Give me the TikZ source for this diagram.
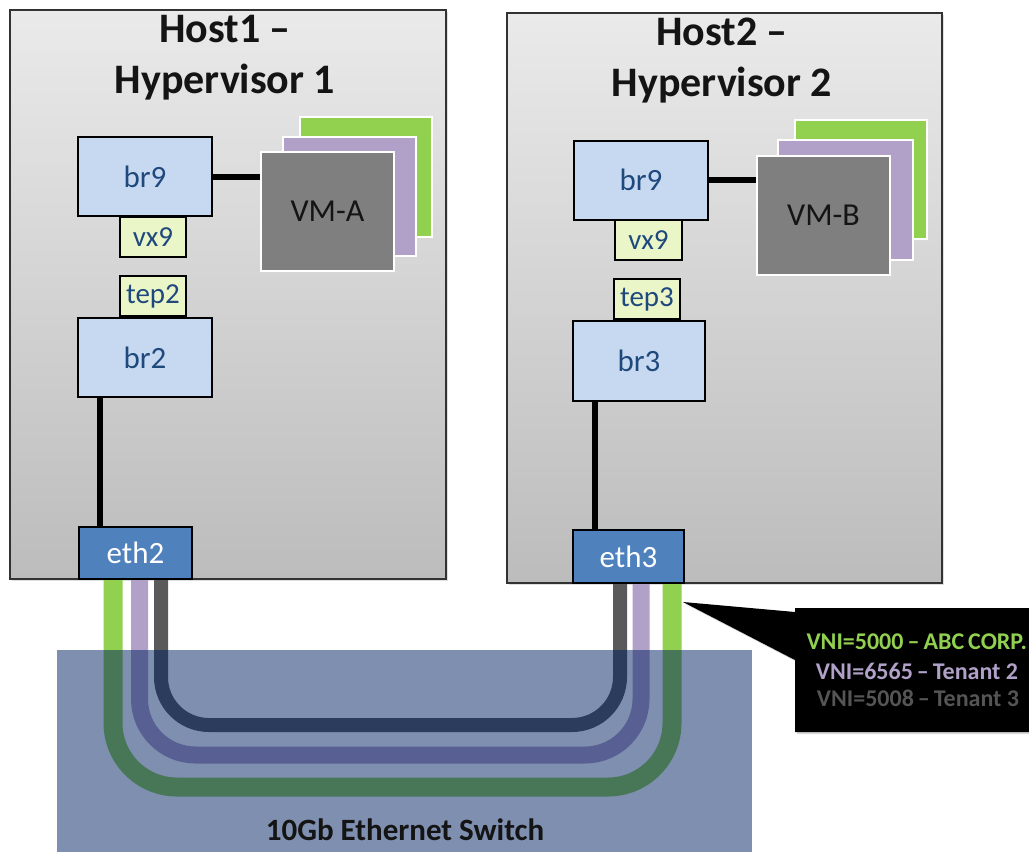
\documentclass[tikz,border=0pt]{standalone}
\usepackage{fontspec}
\setmainfont{Carlito}
\usetikzlibrary{shadows}
\definecolor{hostTop}{RGB}{234,234,234}
\definecolor{hostBot}{RGB}{188,188,188}
\definecolor{hostLine}{RGB}{50,50,50}
\definecolor{brFill}{RGB}{198,217,240}
\definecolor{tepFill}{RGB}{234,246,200}
\definecolor{ethFill}{RGB}{79,129,189}
\definecolor{boxText}{RGB}{31,73,125}
\definecolor{vmGray}{RGB}{127,127,127}
\definecolor{vmPurple}{RGB}{177,160,199}
\definecolor{vmGreen}{RGB}{146,208,80}
\definecolor{cabGray}{RGB}{90,90,90}
\definecolor{swFill}{RGB}{0,32,96}
\definecolor{txtDark}{RGB}{20,20,20}
\definecolor{vniGray}{RGB}{85,85,85}
\begin{document}
\begin{tikzpicture}[x=1pt,y=-1pt,
  host/.style={draw=hostLine, line width=2pt, top color=hostTop, bottom color=hostBot,
    inner sep=0pt, drop shadow={opacity=0.25, shadow xshift=2pt, shadow yshift=-2pt}},
  title/.style={font=\fontsize{42}{51}\selectfont\bfseries, text=txtDark, align=center},
  brbox/.style={draw=black, line width=2pt, fill=brFill, inner sep=0pt,
    minimum width=134pt, minimum height=79pt, text=boxText,
    font=\fontsize{31}{34}\selectfont},
  tepbox/.style={draw=black, line width=2pt, fill=tepFill, inner sep=0pt,
    minimum width=66pt, minimum height=40pt, text=boxText,
    font=\fontsize{29}{32}\selectfont},
  ethbox/.style={draw=black, line width=2pt, fill=ethFill, inner sep=0pt,
    text=white, font=\fontsize{31}{34}\selectfont},
  vm/.style={draw=white, line width=2pt, inner sep=0pt,
    minimum width=133pt, minimum height=119pt},
  vmfront/.style={vm, fill=vmGray, text=txtDark, font=\fontsize{32}{34}\selectfont},
  link/.style={line width=6pt, black},
  cable/.style={line width=#1},
  vni/.style={font=\fontsize{24}{26}\selectfont\bfseries}
]
\useasboundingbox (0,0) rectangle (1029,852);
\fill[white] (0,0) rectangle (1029,852);

% hosts
\node[host, minimum width=436pt, minimum height=569pt] (h1) at (228,294.5) {};
\node[host, minimum width=435pt, minimum height=570pt] (h2) at (724.5,298) {};
\node[title] (t1) at (225,58) {Host1 –\\Hypervisor 1};
\node[title] (t2) at (722,61) {Host2 –\\Hypervisor 2};

% host 1 contents
\node[vm, fill=vmGreen, minimum width=132pt, minimum height=120pt] (ga) at (366,177) {};
\node[vm, fill=vmPurple] (pa) at (349.5,196.5) {};
\node[vmfront] (vmA) at (327.5,211.5) {VM-A};
\node[brbox] (b9a) at (145,176.5) {br9};
\node[tepbox] (vxa) at (153,237) {vx9};
\node[tepbox] (tep2) at (153,296) {tep2};
\node[brbox] (br2) at (145,357.5) {br2};
\node[ethbox, minimum width=113pt, minimum height=52pt] (eth2) at (135.5,553) {eth2};
\draw[link] (b9a.east) -- (b9a.east -| vmA.west);
\draw[link] ([xshift=-45pt]br2.south) -- ([xshift=-45pt]br2.south |- eth2.north);

% host 2 contents
\node[vm, fill=vmGreen, minimum width=132pt] (gb) at (861,179.5) {};
\node[vm, fill=vmPurple, minimum width=135pt, minimum height=120pt] (pb) at (845.5,200) {};
\node[vmfront] (vmB) at (823.5,215) {VM-B};
\node[brbox] (b9b) at (641,180) {br9};
\node[tepbox, minimum width=67pt] (vxb) at (648.5,240) {vx9};
\node[tepbox] (tep3) at (647,299) {tep3};
\node[brbox, minimum width=132pt, minimum height=80pt] (br3) at (639,361) {br3};
\node[ethbox, minimum width=111pt, minimum height=53pt] (eth3) at (628.5,556.5) {eth3};
\draw[link] (b9b.east) -- (b9b.east -| vmB.west);
\draw[link] ([xshift=-44pt]br3.south) -- ([xshift=-44pt]br3.south |- eth3.north);

% cables
\coordinate (gL) at ([xshift=-22.5pt]eth2.south);
\coordinate (pL) at ([xshift=4pt]eth2.south);
\coordinate (kL) at ([xshift=25.5pt]eth2.south);
\coordinate (kR) at ([xshift=-8.5pt]eth3.south);
\coordinate (pR) at ([xshift=12.5pt]eth3.south);
\coordinate (gR) at ([xshift=43.5pt]eth3.south);
\coordinate (gY) at (0,787);
\coordinate (pY) at (0,755);
\coordinate (kY) at (0,725);
\draw[cable=19pt, vmGreen, rounded corners=64pt] (gL) -- (gL |- gY) -- (gR |- gY) -- (gR);
\draw[cable=17pt, vmPurple, rounded corners=56pt] (pL) -- (pL |- pY) -- (pR |- pY) -- (pR);
\draw[cable=14pt, cabGray, rounded corners=48pt] (kL) -- (kL |- kY) -- (kR |- kY) -- (kR);

% switch
\fill[swFill, fill opacity=0.5] (57,650) rectangle (752,862);
\node[font=\fontsize{31}{34}\selectfont\bfseries, text=txtDark] (sw) at (405,830) {10Gb Ethernet Switch};

% callout
\coordinate (tip) at (683,602);
\fill[black, drop shadow={opacity=0.3, shadow xshift=2pt, shadow yshift=-2pt}]
  (tip) -- (795,612) -- (795,608) -- (1045,608) -- (1045,732) -- (795,732) -- (795,660) -- cycle;
\node[vni, text=vmGreen, anchor=west] (v1) at (803,642) {VNI=5000\,–\,ABC\,CORP.};
\node[vni, text=vmPurple] (v2) at (917,671) {VNI=6565\,–\,Tenant 2};
\node[vni, text=vniGray] (v3) at (918,698) {VNI=5008\,–\,Tenant 3};
\end{tikzpicture}
\end{document}
